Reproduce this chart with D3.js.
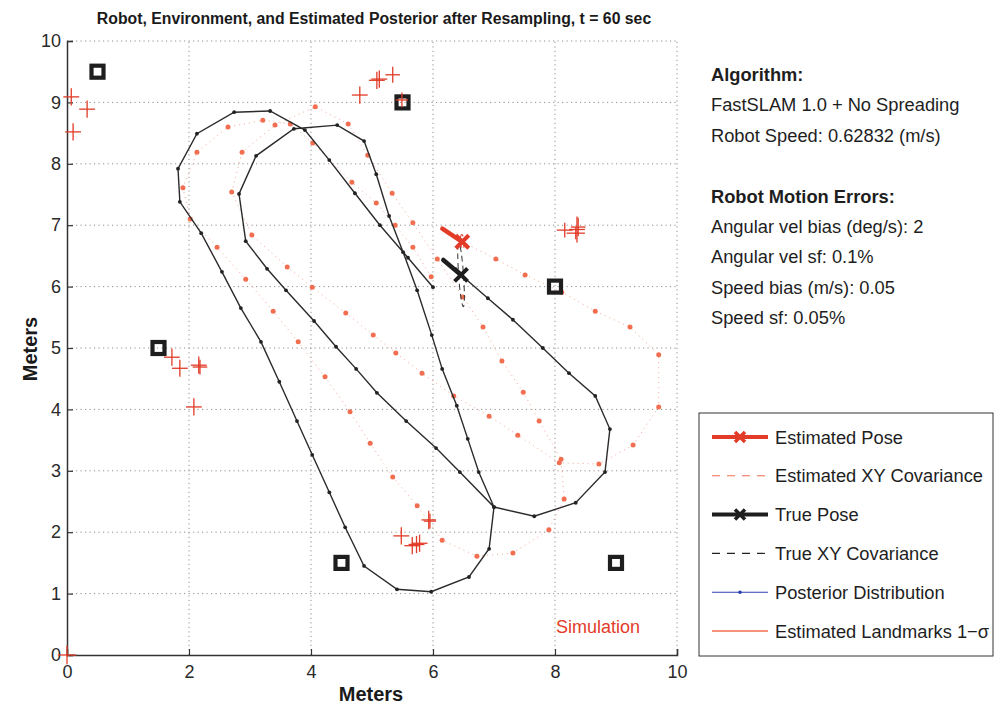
<!DOCTYPE html>
<html>
<head>
<meta charset="utf-8">
<script src="https://cdn.jsdelivr.net/npm/d3@7"></script>
<style>
  body { margin: 0; background: #fff; }
  text { font-family: "Liberation Sans", Arial, Helvetica, sans-serif; }
</style>
</head>
<body>
<svg id="chart" width="996" height="709"></svg>
<script>
// ---- True robot trajectory (m), one vertex per second ----
const trueX = [6.00,5.59,5.13,4.72,4.30,3.90,3.33,2.74,2.13,1.82,1.85,2.20,2.54,2.85,3.18,3.48,3.77,4.02,4.30,4.56,
               4.87,5.41,5.97,6.59,6.92,7.00,6.75,6.57,6.39,6.15,5.98,5.74,5.51,5.28,5.07,4.87,4.43,3.72,3.10,2.82,
               2.93,3.28,3.59,4.05,4.41,4.74,5.08,5.56,6.05,6.44,7.00,7.66,8.34,8.82,8.90,8.66,8.23,7.80,7.31,6.90,6.46];
const trueY = [5.99,6.47,7.00,7.52,8.06,8.55,8.86,8.84,8.49,7.92,7.38,6.87,6.24,5.65,5.10,4.45,3.81,3.26,2.65,2.08,
               1.45,1.07,1.03,1.27,1.73,2.41,2.98,3.52,4.06,4.66,5.21,5.94,6.56,7.15,7.83,8.37,8.63,8.57,8.13,7.51,
               6.74,6.29,5.94,5.44,5.02,4.66,4.27,3.81,3.37,2.98,2.41,2.26,2.48,2.98,3.68,4.22,4.59,5.00,5.46,5.81,6.19];

// ---- Estimated trajectory (m) ----
const estX = [5.97,5.67,5.38,5.07,4.67,4.03,3.66,3.21,2.64,2.13,1.90,2.02,2.46,2.93,3.38,3.79,4.23,4.64,4.97,5.34,
              5.74,6.15,6.72,7.31,7.90,8.15,8.10,7.74,7.48,7.13,6.82,6.49,6.07,5.67,5.33,4.93,4.61,4.07,3.41,2.87,
              2.70,3.03,3.61,4.02,4.57,5.02,5.39,5.82,6.34,6.92,7.39,8.07,8.72,9.28,9.70,9.70,9.23,8.66,8.11,7.51,7.03,6.48];
const estY = [6.16,6.64,7.00,7.36,7.70,8.34,8.65,8.71,8.60,8.19,7.61,7.10,6.64,6.12,5.60,5.10,4.53,3.96,3.45,2.90,
              2.43,1.87,1.61,1.66,2.04,2.54,3.19,3.81,4.28,4.79,5.34,5.83,6.45,7.04,7.52,8.14,8.65,8.93,8.63,8.19,
              7.54,6.84,6.32,5.99,5.57,5.21,4.92,4.59,4.22,3.89,3.58,3.13,3.11,3.42,4.04,4.89,5.34,5.60,5.91,6.19,6.45,6.73];

// ---- True landmarks (m) ----
const landmarkX = [0.5, 5.5, 1.5, 8.0, 4.5, 9.0];
const landmarkY = [9.5, 9.0, 5.0, 6.0, 1.5, 1.5];

// ---- Estimated landmarks with 1-sigma extents (m) ----
const lmEstX  = [0.00, 0.07,0.33,0.10, 4.80,5.08,5.12,5.34,5.49, 1.72,1.85,2.16,2.18,2.08, 8.16,8.36,8.34,8.38, 5.93,5.95,5.48,5.66,5.73,5.78];
const lmEstY  = [0.00, 9.09,8.89,8.52, 9.12,9.36,9.38,9.45,9.04, 4.85,4.67,4.72,4.69,4.04, 6.92,6.93,6.87,6.97, 2.20,2.18,1.94,1.78,1.80,1.82];
const lmEstSx = [0.15, 0.13,0.13,0.13, 0.13,0.13,0.13,0.12,0.10, 0.13,0.13,0.13,0.12,0.13, 0.13,0.13,0.15,0.12, 0.12,0.10,0.13,0.13,0.13,0.13];
const lmEstSy = [0.15, 0.14,0.14,0.14, 0.14,0.14,0.14,0.13,0.12, 0.14,0.14,0.14,0.12,0.14, 0.12,0.21,0.10,0.15, 0.15,0.12,0.14,0.14,0.14,0.14];

// ---- Poses: [x, y, heading deg, heading length m] ----
const truePose = [6.46, 6.19, 140, 0.38];
const estPose  = [6.48, 6.73, 147, 0.39];
// Posterior particles: positions and headings
const particleX = [6.50, 6.53, 6.47];
const particleY = [6.71, 6.69, 6.74];
const particleH = [146, 148, 145];
// XY covariance ellipses: [rx, ry, rotation deg] (m)
const trueCov = [0.04, 0.52, -4];
const estCov  = [0.03, 0.12, -4];

// ---- Axis ticks ----
const xTicks = [0, 2, 4, 6, 8, 10];
const yTicks = [0, 1, 2, 3, 4, 5, 6, 7, 8, 9, 10];

// ---- Text blocks ----
const titleText = "Robot, Environment, and Estimated Posterior after Resampling, t = 60 sec";
const infoLines = [
  {t: "Algorithm:", b: true},
  {t: "FastSLAM 1.0 + No Spreading"},
  {t: "Robot Speed: 0.62832 (m/s)"},
  {t: ""},
  {t: "Robot Motion Errors:", b: true},
  {t: "Angular vel bias (deg/s): 2"},
  {t: "Angular vel sf: 0.1%"},
  {t: "Speed bias (m/s): 0.05"},
  {t: "Speed sf: 0.05%"}
];
const legendLabels = ["Estimated Pose", "Estimated XY Covariance", "True Pose",
                      "True XY Covariance", "Posterior Distribution", "Estimated Landmarks 1\u2212\u03c3"];

// ---- Colours ----
const RED = "#e23b27", EST = "#f26e50", DARK = "#333333", BLUE = "#2c3fb0";

const svg = d3.select("#chart");
const x = d3.scaleLinear().domain([0, 10]).range([67, 677]);
const y = d3.scaleLinear().domain([0, 10]).range([655, 41]);

// Grid
const grid = svg.append("g").attr("stroke", "#8f8f8f").attr("stroke-width", 1).attr("stroke-dasharray", "1.2,3.3");
grid.selectAll(".gx").data(xTicks.filter(d => d > 0)).join("line")
  .attr("x1", d => x(d)).attr("x2", d => x(d)).attr("y1", y(0)).attr("y2", y(10));
grid.selectAll(".gy").data(yTicks.filter(d => d > 0)).join("line")
  .attr("x1", x(0)).attr("x2", x(10)).attr("y1", d => y(d)).attr("y2", d => y(d));

// Axes
const xAxis = d3.axisBottom(x).tickValues(xTicks).tickSize(-6).tickPadding(10);
const yAxis = d3.axisLeft(y).tickValues(yTicks).tickSize(-6).tickPadding(6);
const gx = svg.append("g").attr("transform", `translate(0,${y(0)})`).call(xAxis);
const gy = svg.append("g").attr("transform", `translate(${x(0)},0)`).call(yAxis);
[gx, gy].forEach(g => {
  g.select(".domain").attr("stroke", DARK).attr("stroke-width", 1.5);
  g.selectAll(".tick line").attr("stroke", DARK).attr("stroke-width", 1.2);
  g.selectAll(".tick text").attr("fill", "#2a2a2a").attr("font-size", 18)
    .attr("font-family", "Liberation Sans, Arial, sans-serif");
});

// Estimated trajectory: dotted line plus per-second dots
const estPts = estX.map((v, i) => [v, estY[i]]);
const truePts = trueX.map((v, i) => [v, trueY[i]]);
const line = d3.line().x(d => x(d[0])).y(d => y(d[1]));
svg.append("path").datum(estPts).attr("d", line).attr("fill", "none")
  .attr("stroke", "#f4a792").attr("stroke-width", 1).attr("stroke-dasharray", "1,4");
svg.append("g").selectAll("circle").data(estPts).join("circle")
  .attr("cx", d => x(d[0])).attr("cy", d => y(d[1])).attr("r", 2.5).attr("fill", EST);

// True trajectory
svg.append("path").datum(truePts).attr("d", line).attr("fill", "none")
  .attr("stroke", "#2b2b2b").attr("stroke-width", 1.4);
svg.append("g").selectAll("circle").data(truePts).join("circle")
  .attr("cx", d => x(d[0])).attr("cy", d => y(d[1])).attr("r", 1.9).attr("fill", "#222");

// True landmarks
const sq = 12;
svg.append("g").selectAll("rect").data(landmarkX.map((v, i) => [v, landmarkY[i]])).join("rect")
  .attr("x", d => x(d[0]) - sq / 2).attr("y", d => y(d[1]) - sq / 2)
  .attr("width", sq).attr("height", sq).attr("fill", "none")
  .attr("stroke", "#1e1e1e").attr("stroke-width", 4.2);

// Estimated landmarks with 1-sigma bars
const lmG = svg.append("g").attr("stroke", RED).attr("stroke-width", 1.3);
lmEstX.forEach((lx, i) => {
  const ly = lmEstY[i], sx = lmEstSx[i], sy = lmEstSy[i];
  lmG.append("line").attr("x1", x(lx - sx)).attr("x2", x(lx + sx)).attr("y1", y(ly)).attr("y2", y(ly));
  lmG.append("line").attr("x1", x(lx)).attr("x2", x(lx)).attr("y1", y(ly - sy)).attr("y2", y(ly + sy));
});

// Covariance ellipses
function ellipse(c, cov, color) {
  svg.append("ellipse")
    .attr("cx", x(c[0])).attr("cy", y(c[1]))
    .attr("rx", x(cov[0]) - x(0)).attr("ry", y(0) - y(cov[1]))
    .attr("transform", `rotate(${cov[2]},${x(c[0])},${y(c[1])})`)
    .attr("fill", "none").attr("stroke", color).attr("stroke-width", 1)
    .attr("stroke-dasharray", "6,4");
}
ellipse(truePose, trueCov, "#333");
ellipse(estPose, estCov, RED);

// Pose: heading line and X marker
function headEnd(px, py, hdg, len) {
  const a = hdg * Math.PI / 180;
  return [px + len * Math.cos(a), py + len * Math.sin(a)];
}
function xMarker(g, cx, cy, r, color, w) {
  g.append("path").attr("d", `M${cx - r},${cy - r}L${cx + r},${cy + r}M${cx - r},${cy + r}L${cx + r},${cy - r}`)
    .attr("stroke", color).attr("stroke-width", w).attr("fill", "none");
}
function drawPose(p, color) {
  const g = svg.append("g");
  const e = headEnd(p[0], p[1], p[2], p[3]);
  g.append("line").attr("x1", x(p[0])).attr("y1", y(p[1])).attr("x2", x(e[0])).attr("y2", y(e[1]))
    .attr("stroke", color).attr("stroke-width", 4.5).attr("stroke-linecap", "round");
  xMarker(g, x(p[0]), y(p[1]), 6.5, color, 4);
}
drawPose(truePose, "#1e1e1e");

// Posterior particles
const pg = svg.append("g");
particleX.forEach((px, i) => {
  const e = headEnd(px, particleY[i], particleH[i], 0.32);
  pg.append("line").attr("x1", x(px)).attr("y1", y(particleY[i])).attr("x2", x(e[0])).attr("y2", y(e[1]))
    .attr("stroke", BLUE).attr("stroke-width", 1.4);
  pg.append("circle").attr("cx", x(px)).attr("cy", y(particleY[i])).attr("r", 1.3).attr("fill", BLUE);
});
drawPose(estPose, RED);

// "Simulation" watermark
svg.append("text").attr("x", 556).attr("y", 633).attr("font-size", 18).attr("fill", RED).text("Simulation");

// Title and axis labels
svg.append("text").attr("x", 374).attr("y", 24).attr("text-anchor", "middle")
  .attr("font-size", 15.8).attr("font-weight", "bold").attr("fill", "#1a1a1a").text(titleText);
svg.append("text").attr("x", 371).attr("y", 701).attr("text-anchor", "middle")
  .attr("font-size", 20).attr("font-weight", "bold").attr("fill", "#1a1a1a").text("Meters");
svg.append("text").attr("transform", "translate(37,349) rotate(-90)").attr("text-anchor", "middle")
  .attr("font-size", 20).attr("font-weight", "bold").attr("fill", "#1a1a1a").text("Meters");

// Info panel
svg.append("g").selectAll("text").data(infoLines).join("text")
  .attr("x", 711).attr("y", (d, i) => 81 + i * 30.4)
  .attr("font-size", 18.3).attr("font-weight", d => d.b ? "bold" : "normal")
  .attr("fill", "#1e1e1e").text(d => d.t);

// Legend
const lg = svg.append("g");
lg.append("rect").attr("x", 699).attr("y", 413).attr("width", 294).attr("height", 243)
  .attr("fill", "#fff").attr("stroke", "#333").attr("stroke-width", 1);
const ly0 = 437, lstep = 38.8, lx1 = 712, lx2 = 768, lxm = 740;
legendLabels.forEach((lab, i) => {
  const yy = ly0 + i * lstep;
  if (i === 0 || i === 2) {
    const c = i === 0 ? RED : "#1e1e1e";
    lg.append("line").attr("x1", lx1).attr("x2", lx2).attr("y1", yy).attr("y2", yy)
      .attr("stroke", c).attr("stroke-width", 4);
    xMarker(lg, lxm, yy, 5, c, 3.5);
  } else if (i === 1 || i === 3) {
    lg.append("line").attr("x1", lx1).attr("x2", lx2).attr("y1", yy).attr("y2", yy)
      .attr("stroke", i === 1 ? EST : "#222").attr("stroke-width", 1.1).attr("stroke-dasharray", "8,7");
  } else if (i === 4) {
    lg.append("line").attr("x1", lx1).attr("x2", lx2).attr("y1", yy).attr("y2", yy)
      .attr("stroke", BLUE).attr("stroke-width", 1.1);
    lg.append("circle").attr("cx", lxm).attr("cy", yy).attr("r", 1.8).attr("fill", BLUE);
  } else {
    lg.append("line").attr("x1", lx1).attr("x2", lx2).attr("y1", yy).attr("y2", yy)
      .attr("stroke", EST).attr("stroke-width", 1.4);
  }
  lg.append("text").attr("x", 775).attr("y", yy + 6.5).attr("font-size", 18.3)
    .attr("fill", "#1e1e1e").text(lab);
});
</script>
</body>
</html>
